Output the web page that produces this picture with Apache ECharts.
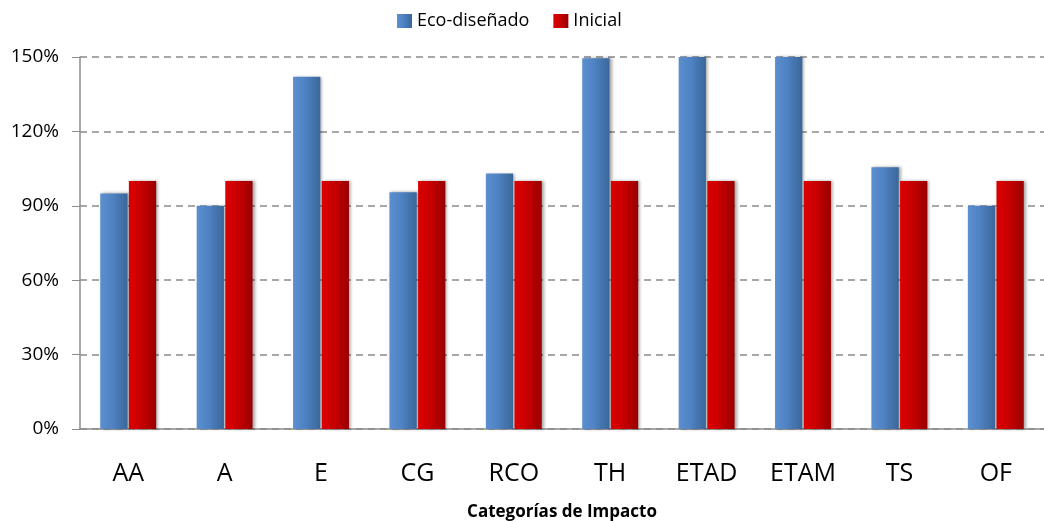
<!DOCTYPE html>
<html>
<head>
<meta charset="utf-8">
<script src="https://cdn.jsdelivr.net/npm/echarts@6/dist/echarts.min.js"></script>
<style>
html,body{margin:0;padding:0;background:#fff;}
#container{width:1044px;height:521px;}
</style>
</head>
<body>
<div id="container"></div>
<script>
// datos del grafico
var categorias = ['AA','A','E','CG','RCO','TH','ETAD','ETAM','TS','OF'];
var ecoDisenado = [95, 90, 142, 95.5, 103, 149.5, 165, 160, 105.5, 90];
var inicial = [100, 100, 100, 100, 100, 100, 100, 100, 100, 100];
var yTicks = [0, 30, 60, 90, 120, 150];

(function(){
	showColumnCharts();
})();

//gradiente horizontal para simular el cilindro
function barColor(left, mid, right){
	return new echarts.graphic.LinearGradient(0, 0, 1, 0, [
		{offset: 0, color: left},
		{offset: 0.45, color: mid},
		{offset: 1, color: right}
	]);
}

//柱状图
function showColumnCharts(){
	var chart = echarts.init(document.getElementById('container'));
	var font = '"Open Sans", sans-serif';
	var option = {
		animation: false,
		legend: {
			left: 392,
			top: 7,
			icon: 'rect',
			itemWidth: 15,
			itemHeight: 14,
			itemGap: 24,
			textStyle: {fontFamily: font, fontSize: 18, color: '#000'},
			data: ['Eco-diseñado', 'Inicial']
		},
		grid: {left: 80, right: 0, top: 57, bottom: 92, outerBoundsMode: 'none'},
		xAxis: [{
			type: 'category',
			data: categorias,
			name: 'Categorías de Impacto',
			nameLocation: 'middle',
			nameGap: 75,
			nameTextStyle: {fontFamily: font, fontSize: 17, fontWeight: 'bold', color: '#000'},
			axisLine: {lineStyle: {color: '#8c8c8c', width: 1.5}},
			axisTick: {show: false},
			axisLabel: {fontFamily: font, fontSize: 25, color: '#000', margin: 32}
		}],
		yAxis: [{
			type: 'value',
			min: yTicks[0],
			max: yTicks[yTicks.length - 1],
			interval: 30,
			axisLine: {show: true, lineStyle: {color: '#8c8c8c', width: 1.5}},
			axisTick: {show: true, inside: false, length: 8, lineStyle: {color: '#8c8c8c'}},
			axisLabel: {
				fontFamily: font, fontSize: 19, color: '#000', margin: 21,
				formatter: function(val){
					return val + '%';
				}
			},
			splitLine: {lineStyle: {color: '#8a8a8a', type: [7, 5], width: 1.5}}
		}],
		series: [{
			name: 'Eco-diseñado',
			type: 'bar',
			barGap: '5%',
			barCategoryGap: '42%',
			clip: true,
			itemStyle: {
				color: barColor('#5b8fd0', '#4f82c2', '#3a6699'),
				shadowColor: 'rgba(0,0,0,0.35)',
				shadowBlur: 3,
				shadowOffsetX: 2
			},
			data: ecoDisenado
		}, {
			name: 'Inicial',
			type: 'bar',
			clip: true,
			itemStyle: {
				color: barColor('#dc0000', '#c80000', '#980000'),
				shadowColor: 'rgba(0,0,0,0.35)',
				shadowBlur: 3,
				shadowOffsetX: 2
			},
			data: inicial
		}]
	};
	chart.setOption(option);
}
</script>
</body>
</html>
